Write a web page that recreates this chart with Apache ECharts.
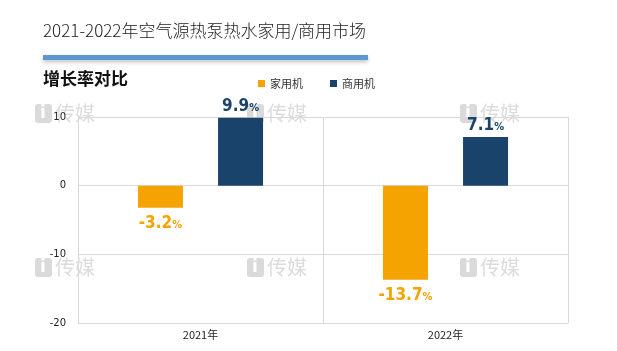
<!DOCTYPE html>
<html>
<head>
<meta charset="utf-8">
<script src="https://cdn.jsdelivr.net/npm/echarts@6/dist/echarts.min.js"></script>
<style>
html, body { margin: 0; padding: 0; background: #fff; }
#main { width: 617px; height: 351px; }
</style>
</head>
<body>
<div id="main"></div>
<script>
var years = ['2021年', '2022年'];
var household = [-3.2, -13.7];
var commercial = [9.9, 7.1];
var yTicks = [-20, -10, 0, 10];

var myChart = echarts.init(document.getElementById('main'));

var labelFont = 'DejaVu Sans';

function makeData(values, color) {
    return values.map(function (v) {
        return {
            value: v,
            label: {
                show: true,
                position: v < 0 ? 'bottom' : 'top',
                distance: v < 0 ? 7 : 3,
                formatter: '{n|' + v.toFixed(1) + '}{p|%}',
                rich: {
                    n: { fontFamily: labelFont, fontWeight: 'bold condensed', fontSize: 17, color: color },
                    p: { fontFamily: labelFont, fontWeight: 'bold condensed', fontSize: 11, color: color, padding: [4, 0, 0, 0] }
                }
            }
        };
    });
}

// watermark pieces
var marks = [];
[[35, 104], [247, 104], [460, 104], [35, 258], [247, 258], [460, 258]].forEach(function (p) {
    marks.push({
        type: 'rect', left: p[0], top: p[1], z: 0,
        shape: { width: 17, height: 19, r: 3 },
        style: { fill: '#dadada' }
    });
    marks.push({
        type: 'text', left: p[0] + 5, top: p[1] + 1, z: 0,
        style: { text: 'i', fill: '#fff', font: 'bold 17px "DejaVu Sans"' }
    });
    marks.push({
        type: 'text', left: p[0] + 20, top: p[1] - 1, z: 0,
        style: { text: '传媒', fill: '#dcdcdc', font: '20px "Noto Sans CJK SC"' }
    });
});

option = {
    backgroundColor: '#fff',
    color: ['#F5A300', '#1A436B'],
    graphic: marks.concat([
        {
            type: 'text', left: 43, top: 22,
            style: { text: '2021-2022年空气源热泵热水家用/商用市场', fill: '#222', font: '300 17px "Noto Sans CJK SC"' }
        },
        {
            type: 'rect', left: 43, top: 55,
            shape: { width: 325, height: 5 },
            style: { fill: '#5E97CF', shadowBlur: 4, shadowColor: 'rgba(0,0,0,0.25)', shadowOffsetY: 2 }
        },
        {
            type: 'text', left: 43, top: 70,
            style: { text: '增长率对比', fill: '#111', font: 'bold 17px "Noto Sans CJK SC"' }
        }
    ]),
    legend: {
        left: 253,
        top: 73,
        itemWidth: 7,
        itemHeight: 7,
        itemGap: 27,
        icon: 'rect',
        textStyle: { fontFamily: 'Noto Sans CJK SC', fontSize: 11, color: '#333' },
        data: ['家用机', '商用机']
    },
    grid: { left: 78, right: 49, top: 117, bottom: 28 },
    xAxis: {
        type: 'category',
        data: years,
        axisLine: { show: false },
        axisTick: { show: false },
        splitLine: { show: true, lineStyle: { color: '#d9d9d9' } },
        axisLabel: { color: '#222', fontSize: 11, fontFamily: 'Noto Sans CJK SC', margin: 6 }
    },
    yAxis: {
        type: 'value',
        min: yTicks[0],
        max: yTicks[yTicks.length - 1],
        interval: 10,
        axisLine: { show: false },
        axisTick: { show: false },
        splitLine: { lineStyle: { color: '#d9d9d9' } },
        axisLabel: { color: '#222', fontSize: 10, fontFamily: 'DejaVu Sans', margin: 12 }
    },
    series: [
        {
            name: '家用机',
            type: 'bar',
            barWidth: 45,
            barGap: '78%',
            data: makeData(household, '#F5A300')
        },
        {
            name: '商用机',
            type: 'bar',
            barWidth: 45,
            data: makeData(commercial, '#1A436B')
        }
    ]
};
myChart.setOption(option);
</script>
</body>
</html>
